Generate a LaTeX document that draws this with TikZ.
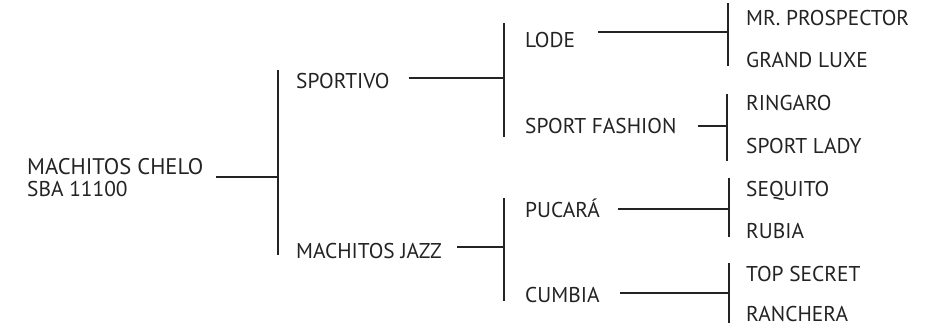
\documentclass[tikz,border=0pt]{standalone}
\usepackage{fontspec}
\setmainfont{PT Sans}
\usetikzlibrary{positioning, calc}
\definecolor{treeInk}{HTML}{232323}

\begin{document}
\begin{tikzpicture}[x=1pt, y=-1pt,
    brand/.style={anchor=base west, inner sep=0pt,
                  font=\fontsize{21.4}{22}\selectfont, text=treeInk},
    rootbrand/.style={brand, font=\fontsize{22.6}{24}\selectfont},
    link/.style={draw=treeInk, line width=1.1pt},
  ]
    \useasboundingbox (0,0) rectangle (930,327);

    % names
    \node[rootbrand] (chelo) at (27,174) {MACHITOS CHELO};
    \node[brand] (code) at (27,196) {SBA 11100};
    \node[brand] (sportivo) at (296,88) {SPORTIVO};
    \node[brand] (jazz) at (296,258) {MACHITOS JAZZ};
    \node[brand] (lode) at (525,47) {LODE};
    \node[brand] (fashion) at (525,133) {SPORT FASHION};
    \node[brand] (pucara) at (525,217) {PUCARÁ};
    \node[brand] (cumbia) at (525,302) {CUMBIA};
    \node[brand] (prospector) at (746,25) {MR. PROSPECTOR};
    \node[brand] (luxe) at (746,67) {GRAND LUXE};
    \node[brand] (ringaro) at (746,110) {RINGARO};
    \node[brand] (lady) at (746,153) {SPORT LADY};
    \node[brand] (sequito) at (746,196) {SEQUITO};
    \node[brand] (rubia) at (746,238) {RUBIA};
    \node[brand] (topsecret) at (746,281) {TOP SECRET};
    \node[brand] (ranchera) at (746,321) {RANCHERA};

    % bars
    \coordinate (j0) at (278,177);
    \coordinate (j1) at (504,78);
    \coordinate (j2) at (504,247);
    \coordinate (j3) at (728,32);
    \coordinate (j4) at (727,126);
    \coordinate (j5) at (729,209);
    \coordinate (j6) at (729,293);
    \draw[link] (278,70) -- (278,255);
    \draw[link] (504,23) -- (504,137);
    \draw[link] (504,198) -- (504,301);
    \draw[link] (728,3) -- (728,66);
    \draw[link] (727,94) -- (727,161);
    \draw[link] (729,178) -- (729,237);
    \draw[link] (729,263) -- (729,323);

    % ties
    \draw[link] ($(chelo.east |- j0)+(13,0)$) -- (j0);
    \draw[link] ($(sportivo.east |- j1)+(19,0)$) -- (j1);
    \draw[link] ($(jazz.east |- j2)+(15,0)$) -- (j2);
    \draw[link] ($(lode.east |- j3)+(23,0)$) -- (j3);
    \draw[link] ($(fashion.east |- j4)+(21,0)$) -- (j4);
    \draw[link] ($(pucara.east |- j5)+(18,0)$) -- (j5);
    \draw[link] ($(cumbia.east |- j6)+(20,0)$) -- (j6);
\end{tikzpicture}
\end{document}
